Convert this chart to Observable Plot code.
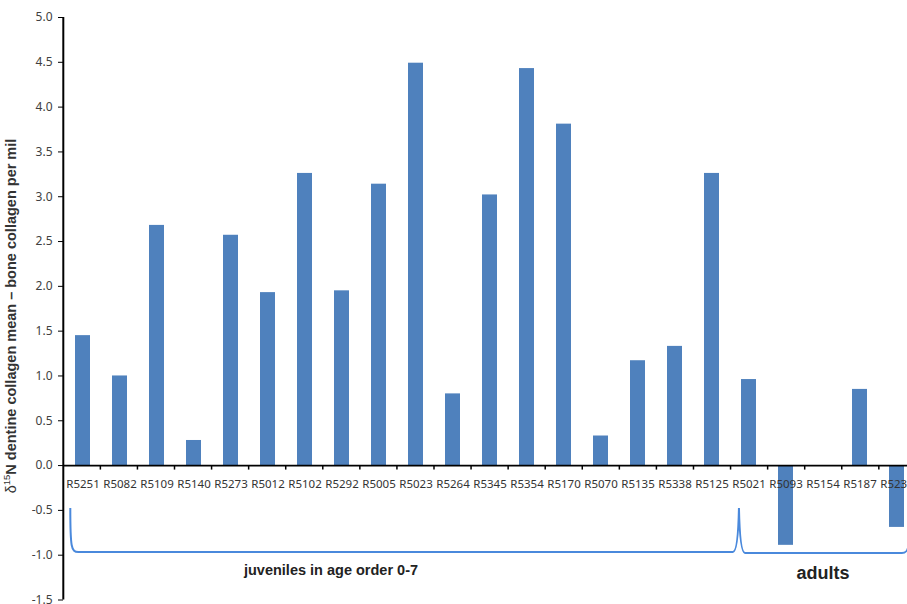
<!DOCTYPE html>
<html><head><meta charset="utf-8">
<script src="https://cdn.jsdelivr.net/npm/d3@7"></script>
<script src="https://cdn.jsdelivr.net/npm/@observablehq/plot@0.6"></script>
<style>
html,body{margin:0;padding:0;background:#fff;overflow:hidden}
#chart{width:907px;height:604px;overflow:hidden}
svg{overflow:hidden}
</style></head><body><div id="chart"></div>
<script>
// Data
const samples = ["R5251","R5082","R5109","R5140","R5273","R5012","R5102","R5292","R5005","R5023","R5264","R5345","R5354","R5170","R5070","R5135","R5338","R5125","R5021","R5093","R5154","R5187","R5234"];
const values  = [1.45, 1.00, 2.68, 0.28, 2.57, 1.93, 3.26, 1.95, 3.14, 4.49, 0.80, 3.02, 4.43, 3.81, 0.33, 1.17, 1.33, 3.26, 0.96, -0.89, 0, 0.85, -0.69];
const yTicks  = [-1.5, -1.0, -0.5, 0.0, 0.5, 1.0, 1.5, 2.0, 2.5, 3.0, 3.5, 4.0, 4.5, 5.0];
const groupLabels = ["juveniles in age order 0-7", "adults"];
const groupFrom   = ["R5251", "R5021"];
const groupTo     = ["R5021", "R5234"];
const groupLabelAt = ["R5292", "R5154"];
const yLabelPlain = "\u03b4";
const yLabelSup = "15";
const yLabelBold = "N dentine collagen mean \u2013 bone collagen per mil";

const table = samples.map((s, i) => ({sample: s, value: values[i]}));
const barColor = "#4f81bd";
const braceColor = "#4a89dc";

const plot = Plot.plot({
  width: 907,
  height: 604,
  marginLeft: 63,
  marginRight: 0,
  marginTop: 17,
  marginBottom: 3,
  style: {background: "#fff", color: "#000", fontFamily: "Noto Sans, sans-serif", fontSize: "12px", overflow: "hidden"},
  x: {domain: samples, range: [63.3, 915.9], paddingInner: 0.6, paddingOuter: 0.3, axis: null},
  y: {domain: [-1.5, 5], range: [599.5, 17], ticks: yTicks, tickFormat: d => d.toFixed(1), tickSize: 5, tickPadding: 6, label: null},
  marks: [
    Plot.barY(table, {x: "sample", y: "value", fill: barColor}),
    Plot.ruleY([0], {stroke: "#000", strokeWidth: 1.6}),
    Plot.text(table, {x: "sample", y: 0, text: "sample", dy: 19, fontSize: 11.5, fill: "#333", fontFamily: "Noto Sans"}),
    Plot.text([groupLabels[0]], {x: () => groupLabelAt[0], y: -1.17, text: d => d, dx: -11, fontSize: 14.5, fontWeight: "bold", fontFamily: "Liberation Sans, Arial", fill: "#222"}),
    Plot.text([groupLabels[1]], {x: () => groupLabelAt[1], y: -1.20, text: d => d, dx: 0, fontSize: 18, fontWeight: "bold", fontFamily: "Liberation Sans, Arial", fill: "#222"})
  ]
});

document.getElementById("chart").appendChild(plot);

// Overlay using the plot's own scales
const sx = plot.scale("x"), sy = plot.scale("y");
const x = d3.scaleBand().domain(sx.domain).range(sx.range)
  .paddingInner(sx.paddingInner ?? 0.6).paddingOuter(sx.paddingOuter ?? 0.3).align(sx.align ?? 0.5);
const y = d3.scaleLinear().domain(sy.domain).range(sy.range);
const step = x.step();
const center = c => x(c) + x.bandwidth() / 2;
const left = c => center(c) - step / 2;
const right = c => center(c) + step / 2;
const svg = d3.select(plot);

// axis line
svg.append("line").attr("x1", 63.3).attr("x2", 63.3).attr("y1", y(5)).attr("y2", y(-1.5))
  .attr("stroke", "#000").attr("stroke-width", 2);
svg.selectAll("[aria-label^='y-axis'] text, g[aria-label='y-axis'] text").attr("fill", "#404040");

// category boundary ticks on the zero line
const y0 = y(0);
samples.forEach(s => {
  svg.append("line").attr("x1", right(s)).attr("x2", right(s)).attr("y1", y0).attr("y2", y0 + 4.5)
    .attr("stroke", "#000").attr("stroke-width", 1.5);
});

// brace
const yTop = y(-0.48), yBot = y(-0.97);
const xL = left(groupFrom[0]) + 7;
const xS = left(groupFrom[1]) + 8.4;
const xR = right(groupTo[1]) - 6;
const p = d3.path();
p.moveTo(xL, yTop);
p.bezierCurveTo(xL, yBot - 4, xL + 1, yBot, xL + 8, yBot);
p.lineTo(xS - 6, yBot);
p.quadraticCurveTo(xS - 1, yBot, xS, yTop);
p.quadraticCurveTo(xS + 1, yBot + 1, xS + 6, yBot + 1);
p.lineTo(xR - 8, yBot + 1);
p.bezierCurveTo(xR - 1, yBot + 1, xR, yBot - 4, xR, yTop);
svg.append("path").attr("d", p.toString()).attr("fill", "none")
  .attr("stroke", braceColor).attr("stroke-width", 2);

// y axis title
const t = svg.append("text")
  .attr("transform", `translate(11,316) rotate(-90)`)
  .attr("text-anchor", "middle").attr("dominant-baseline", "central")
  .attr("font-family", "Liberation Sans, Arial").attr("font-size", 14.5).attr("fill", "#333");
t.append("tspan").attr("font-weight", "normal").text(yLabelPlain);
t.append("tspan").attr("font-size", 9.5).attr("dy", -5.5).text(yLabelSup);
t.append("tspan").attr("font-weight", "bold").attr("dy", 5.5).text(yLabelBold);
</script>
</body></html>
